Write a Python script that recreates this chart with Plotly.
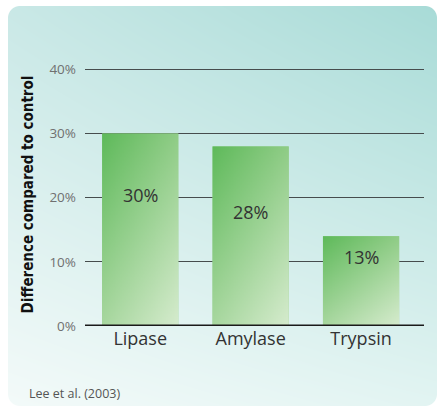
import zlib, struct, base64
import plotly.graph_objects as go

# ---- data ----
categories = ["Lipase", "Amylase", "Trypsin"]
values = [30, 28, 14]
value_labels = ["30%", "28%", "13%"]
y_ticks = [0, 10, 20, 30, 40]
source_text = "Lee et al. (2003)"
y_title = "Difference compared to control"

# label placement (data units) inside bars
label_y = [20.4, 17.7, 10.7]

# ---- geometry ----
W, H = 438, 407
M_L, M_R, M_T, M_B = 85, 14, 63, 81
X_RANGE = [-0.5, 2.57]
Y_RANGE = [0, 41]
BAR_W = 0.69


def make_png(w, h, fn):
    raw = bytearray()
    for yy in range(h):
        raw.append(0)
        for xx in range(w):
            raw.extend(fn(xx, yy))

    def chunk(t, d):
        c = struct.pack('>I', len(d)) + t + d
        return c + struct.pack('>I', zlib.crc32(t + d) & 0xffffffff)

    png = (b'\x89PNG\r\n\x1a\n'
           + chunk(b'IHDR', struct.pack('>IIBBBBB', w, h, 8, 6, 0, 0, 0))
           + chunk(b'IDAT', zlib.compress(bytes(raw), 9))
           + chunk(b'IEND', b''))
    return 'data:image/png;base64,' + base64.b64encode(png).decode()


def hexrgb(h):
    h = h.lstrip('#')
    return [int(h[i:i + 2], 16) for i in (0, 2, 4)]


def bilinear(tl, tr, bl, br, u, v):
    return [int(round(tl[k] * (1 - u) * (1 - v) + tr[k] * u * (1 - v)
                      + bl[k] * (1 - u) * v + br[k] * u * v)) for k in range(3)]


# background panel gradient with rounded corners
BG_X0, BG_X1, BG_Y0, BG_Y1, RAD = 8, 437, 6, 406, 12
bw, bh = BG_X1 - BG_X0, BG_Y1 - BG_Y0
bg_tl, bg_tr, bg_bl, bg_br = map(hexrgb, ["#c9e8e6", "#a8dbd7", "#f3faf9", "#e2f4f2"])


def bg_px(x, y):
    u, v = x / (bw - 1), y / (bh - 1)
    c = bilinear(bg_tl, bg_tr, bg_bl, bg_br, u, v)
    cx = min(max(x + 0.5, RAD), bw - RAD)
    cy = min(max(y + 0.5, RAD), bh - RAD)
    d = ((x + 0.5 - cx) ** 2 + (y + 0.5 - cy) ** 2) ** 0.5
    a = max(0.0, min(1.0, RAD - d + 0.5))
    return c + [int(a * 255)]


bg_uri = make_png(bw, bh, bg_px)

# bar gradient
bar_tl, bar_tr, bar_bl, bar_br = map(hexrgb, ["#5fba5b", "#8fcc86", "#a8d79f", "#d5ebcd"])
gw, gh = 40, 120


def bar_px(x, y):
    return bilinear(bar_tl, bar_tr, bar_bl, bar_br, x / (gw - 1), y / (gh - 1)) + [255]


bar_uri = make_png(gw, gh, bar_px)

fig = go.Figure()
fig.add_trace(go.Bar(
    x=list(range(len(categories))), y=values, width=BAR_W,
    marker=dict(color="#98d190", line=dict(width=0)),
    hovertext=categories, showlegend=False,
))

plot_w = W - M_L - M_R
plot_h = H - M_T - M_B
images = [dict(
    source=bg_uri, xref="paper", yref="paper",
    x=(BG_X0 - M_L) / plot_w, y=(H - M_B - BG_Y0) / plot_h,
    sizex=bw / plot_w, sizey=bh / plot_h,
    xanchor="left", yanchor="top", sizing="stretch", layer="below",
)]
for i, v in enumerate(values):
    images.append(dict(
        source=bar_uri, xref="x", yref="y",
        x=i - BAR_W / 2, y=v, sizex=BAR_W, sizey=v,
        xanchor="left", yanchor="top", sizing="stretch", layer="above",
    ))

annotations = []
for i, (lab, ly) in enumerate(zip(value_labels, label_y)):
    annotations.append(dict(
        x=i, y=ly, xref="x", yref="y", text=lab, showarrow=False,
        font=dict(family="Open Sans", size=18, color="#333333"),
    ))
annotations.append(dict(
    x=(27 - M_L) / plot_w, y=(H - M_B - 393) / plot_h, xref="paper", yref="paper",
    xanchor="left", yanchor="middle", text=source_text, showarrow=False,
    font=dict(family="Open Sans", size=12.5, color="#555555"),
))

fig.update_layout(
    width=W, height=H,
    margin=dict(l=M_L, r=M_R, t=M_T, b=M_B, pad=0),
    paper_bgcolor="white", plot_bgcolor="rgba(0,0,0,0)",
    images=images, annotations=annotations,
    showlegend=False,
    xaxis=dict(
        range=X_RANGE, tickmode="array", tickvals=list(range(len(categories))),
        ticktext=categories, showgrid=False, zeroline=False, showline=False,
        ticks="", tickfont=dict(family="Open Sans", size=18, color="#333333"),
        fixedrange=True,
    ),
    yaxis=dict(
        range=Y_RANGE, tickmode="array", tickvals=y_ticks,
        ticktext=[f"{t}%" for t in y_ticks], showgrid=True,
        gridcolor="#464c4d", gridwidth=1.3, zeroline=False, showline=False,
        ticks="", ticklabelstandoff=8,
        tickfont=dict(family="Open Sans", size=13.5, color="#707070"),
        title=dict(text="<b>" + y_title + "</b>", standoff=12,
                   font=dict(family="DejaVu Sans Condensed", size=15, color="#111111")),
        fixedrange=True,
    ),
    shapes=[dict(type="line", xref="paper", yref="y", x0=0, x1=1, y0=0, y1=0,
                 line=dict(color="#1a1a1a", width=3), layer="above")],
)

fig.write_html("out.html", config={"displayModeBar": False})

# remove the browser's default body margin so the figure sits at the page origin
with open("out.html", "r", encoding="utf-8") as f:
    html = f.read()
html = html.replace("<body>", '<body style="margin:0;padding:0;">', 1)
with open("out.html", "w", encoding="utf-8") as f:
    f.write(html)
